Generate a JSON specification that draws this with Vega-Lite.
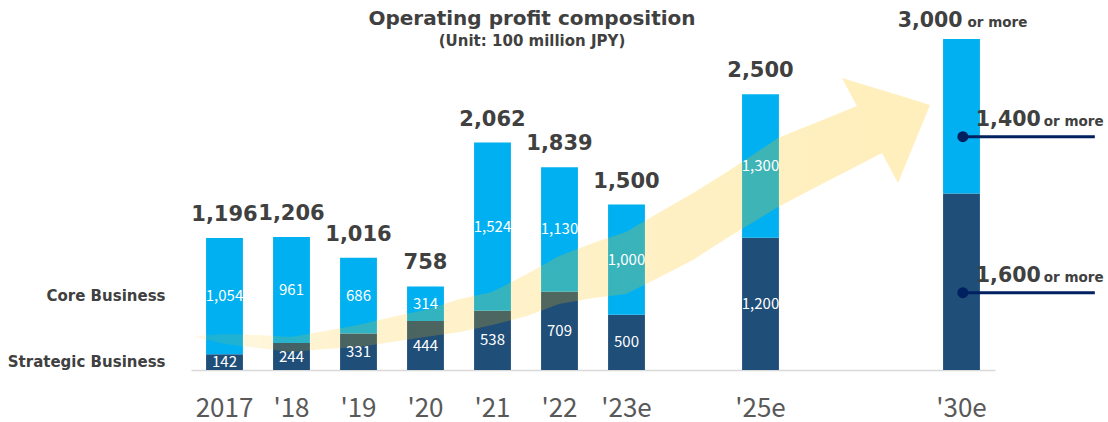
{
  "$schema": "https://vega.github.io/schema/vega-lite/v6.json",
  "width": 804,
  "height": 353,
  "autosize": {"type": "none"},
  "padding": {"left": 191, "top": 17, "right": 113, "bottom": 52},
  "background": "white",
  "config": {"view": {"stroke": null}},
  "title": {
    "text": "Operating profit composition",
    "subtitle": "(Unit: 100 million JPY)",
    "anchor": "middle",
    "dx": -61,
    "offset": -38,
    "font": "DejaVu Sans",
    "fontSize": 20,
    "fontWeight": "bold",
    "color": "#404040",
    "subtitleFont": "DejaVu Sans",
    "subtitleFontSize": 15,
    "subtitleFontWeight": "bold",
    "subtitleColor": "#404040",
    "subtitlePadding": 5
  },
  "datasets": {
    "bars": [
      {"year": "2017", "segment": "Strategic Business", "value": 142},
      {"year": "2017", "segment": "Core Business", "value": 1054},
      {"year": "'18", "segment": "Strategic Business", "value": 244},
      {"year": "'18", "segment": "Core Business", "value": 961},
      {"year": "'19", "segment": "Strategic Business", "value": 331},
      {"year": "'19", "segment": "Core Business", "value": 686},
      {"year": "'20", "segment": "Strategic Business", "value": 444},
      {"year": "'20", "segment": "Core Business", "value": 314},
      {"year": "'21", "segment": "Strategic Business", "value": 538},
      {"year": "'21", "segment": "Core Business", "value": 1524},
      {"year": "'22", "segment": "Strategic Business", "value": 709},
      {"year": "'22", "segment": "Core Business", "value": 1130},
      {"year": "'23e", "segment": "Strategic Business", "value": 500},
      {"year": "'23e", "segment": "Core Business", "value": 1000},
      {"year": "'25e", "segment": "Strategic Business", "value": 1200},
      {"year": "'25e", "segment": "Core Business", "value": 1300},
      {"year": "'30e", "segment": "Strategic Business", "value": 1600},
      {"year": "'30e", "segment": "Core Business", "value": 1400}
    ],
    "totals": [
      {"year": "2017", "total": 1196, "note": ""},
      {"year": "'18", "total": 1206, "note": ""},
      {"year": "'19", "total": 1016, "note": ""},
      {"year": "'20", "total": 758, "note": ""},
      {"year": "'21", "total": 2062, "note": ""},
      {"year": "'22", "total": 1839, "note": ""},
      {"year": "'23e", "total": 1500, "note": ""},
      {"year": "'25e", "total": 2500, "note": ""},
      {"year": "'30e", "total": 3000, "note": "or more"}
    ],
    "arrowBody": [
      {"u": -0.44, "top": 308, "bottom": 299},
      {"u": 0.007, "top": 326, "bottom": 236},
      {"u": 0.5, "top": 317, "bottom": 199},
      {"u": 0.993, "top": 299, "bottom": 163},
      {"u": 1.5, "top": 353, "bottom": 190},
      {"u": 1.993, "top": 408, "bottom": 208},
      {"u": 2.5, "top": 480, "bottom": 254},
      {"u": 2.993, "top": 544, "bottom": 299},
      {"u": 3.515, "top": 644, "bottom": 344},
      {"u": 3.993, "top": 707, "bottom": 408},
      {"u": 4.515, "top": 870, "bottom": 489},
      {"u": 4.993, "top": 1033, "bottom": 598},
      {"u": 5.5, "top": 1151, "bottom": 653},
      {"u": 5.993, "top": 1251, "bottom": 689},
      {"u": 6.5, "top": 1432, "bottom": 843},
      {"u": 6.993, "top": 1604, "bottom": 997},
      {"u": 7.5, "top": 1795, "bottom": 1197},
      {"u": 7.993, "top": 1994, "bottom": 1378},
      {"u": 8.261, "top": 2103, "bottom": 1478},
      {"u": 8.888, "top": 2257, "bottom": 1677},
      {"u": 9.44, "top": 2393, "bottom": 1849},
      {"u": 9.813, "top": 1967, "bottom": 1967}
    ],
    "arrowHead": [
      {"u": 9.216, "top": 2647, "bottom": 2647},
      {"u": 10.052, "top": 2493, "bottom": 1695},
      {"u": 10.53, "top": 2402, "bottom": 2402}
    ],
    "markers": [
      {"u": 11.02, "uEnd": 12.99, "v": 2115, "label": "1,400", "note": "or more"},
      {"u": 11.02, "uEnd": 12.99, "v": 701, "label": "1,600", "note": "or more"}
    ]
  },
  "layer": [
    {
      "data": {"name": "bars"},
      "mark": {"type": "bar"},
      "encoding": {
        "x": {
          "field": "year", "type": "nominal",
          "scale": {"domain": ["2017", "'18", "'19", "'20", "'21", "'22", "'23e", "gap1", "'25e", "gap2", "gap3", "'30e"], "paddingInner": 0.45, "paddingOuter": 0.225},
          "axis": {
            "title": null,
            "labelExpr": "indexof(datum.label, 'gap') === 0 ? '' : datum.label",
            "labelAngle": 0,
            "labelFont": "Noto Sans CJK JP",
            "labelFontSize": 26,
            "labelColor": "#595959",
            "labelBaseline": "alphabetic",
            "labelPadding": 46,
            "ticks": false,
            "tickSize": 0,
            "grid": false,
            "domainColor": "#D9D9D9",
            "domainWidth": 1.5
          }
        },
        "y": {"field": "value", "type": "quantitative", "stack": "zero", "scale": {"domain": [0, 3200], "nice": false}, "axis": null},
        "color": {"field": "segment", "type": "nominal", "scale": {"domain": ["Strategic Business", "Core Business"], "range": ["#1F4E79", "#00B0F0"]}, "legend": null},
        "order": {"field": "segment", "sort": "descending"}
      }
    },
    {
      "layer": [
        {
          "data": {"name": "arrowBody"},
          "mark": {
            "type": "area",
            "interpolate": "linear",
            "fill": {
              "gradient": "linear", "x1": 0, "y1": 0, "x2": 1, "y2": 0,
              "stops": [
                {"offset": 0, "color": "rgba(255,192,0,0.10)"},
                {"offset": 0.2, "color": "rgba(255,192,0,0.19)"},
                {"offset": 1, "color": "rgba(255,192,0,0.26)"}
              ]
            }
          },
          "encoding": {
            "x": {"field": "u", "type": "quantitative", "scale": {"domain": [-0.5, 11.5], "nice": false, "zero": false}, "axis": null},
            "y": {"field": "top", "type": "quantitative", "stack": null, "scale": {"domain": [0, 3200], "nice": false}, "axis": null},
            "y2": {"field": "bottom"}
          }
        },
        {
          "data": {"name": "arrowHead"},
          "mark": {"type": "area", "interpolate": "linear", "fill": "#FFC000", "fillOpacity": 0.26},
          "encoding": {
            "x": {"field": "u", "type": "quantitative", "scale": {"domain": [-0.5, 11.5], "nice": false, "zero": false}, "axis": null},
            "y": {"field": "top", "type": "quantitative", "stack": null, "scale": {"domain": [0, 3200], "nice": false}, "axis": null},
            "y2": {"field": "bottom"}
          }
        }
      ]
    },
    {
      "layer": [
        {
          "data": {"name": "bars"},
          "transform": [{"filter": {"not": {"field": "year", "equal": "'30e"}}}],
          "mark": {"type": "text", "font": "Noto Sans CJK JP", "fontSize": 15, "color": "white", "baseline": "middle"},
          "encoding": {
            "x": {"field": "year", "type": "nominal", "scale": {"domain": ["2017", "'18", "'19", "'20", "'21", "'22", "'23e", "gap1", "'25e", "gap2", "gap3", "'30e"], "paddingInner": 0.45, "paddingOuter": 0.225}, "axis": null},
            "y": {"field": "value", "type": "quantitative", "stack": "zero", "bandPosition": 0.5, "scale": {"domain": [0, 3200], "nice": false}, "axis": null},
            "detail": {"field": "segment"},
            "order": {"field": "segment", "sort": "descending"},
            "text": {"field": "value", "type": "quantitative", "format": ","}
          }
        },
        {
          "data": {"name": "bars"},
          "transform": [{"filter": {"field": "year", "equal": "2017"}}],
          "mark": {"type": "text", "font": "DejaVu Sans", "fontSize": 15, "fontWeight": "bold", "color": "#404040", "align": "right", "baseline": "middle", "dx": -59},
          "encoding": {
            "x": {"field": "year", "type": "nominal", "scale": {"domain": ["2017", "'18", "'19", "'20", "'21", "'22", "'23e", "gap1", "'25e", "gap2", "gap3", "'30e"], "paddingInner": 0.45, "paddingOuter": 0.225}, "axis": null},
            "y": {"field": "value", "type": "quantitative", "stack": "zero", "bandPosition": 0.5, "scale": {"domain": [0, 3200], "nice": false}, "axis": null},
            "detail": {"field": "segment"},
            "order": {"field": "segment", "sort": "descending"},
            "text": {"field": "segment"}
          }
        },
        {
          "data": {"name": "totals"},
          "transform": [{"filter": {"not": {"field": "year", "equal": "'30e"}}}],
          "mark": {"type": "text", "font": "DejaVu Sans", "fontSize": 21, "fontWeight": "bold", "color": "#404040", "baseline": "alphabetic", "dy": -17},
          "encoding": {
            "x": {"field": "year", "type": "nominal", "scale": {"domain": ["2017", "'18", "'19", "'20", "'21", "'22", "'23e", "gap1", "'25e", "gap2", "gap3", "'30e"], "paddingInner": 0.45, "paddingOuter": 0.225}, "axis": null},
            "y": {"field": "total", "type": "quantitative", "stack": null, "scale": {"domain": [0, 3200], "nice": false}, "axis": null},
            "text": {"field": "total", "type": "quantitative", "format": ","}
          }
        },
        {
          "data": {"name": "totals"},
          "transform": [{"filter": {"field": "year", "equal": "'30e"}}],
          "mark": {"type": "text", "font": "DejaVu Sans", "fontSize": 20.5, "fontWeight": "bold", "color": "#404040", "baseline": "alphabetic", "align": "right", "dx": 1, "dy": -12},
          "encoding": {
            "x": {"field": "year", "type": "nominal", "scale": {"domain": ["2017", "'18", "'19", "'20", "'21", "'22", "'23e", "gap1", "'25e", "gap2", "gap3", "'30e"], "paddingInner": 0.45, "paddingOuter": 0.225}, "axis": null},
            "y": {"field": "total", "type": "quantitative", "stack": null, "scale": {"domain": [0, 3200], "nice": false}, "axis": null},
            "text": {"field": "total", "type": "quantitative", "format": ","}
          }
        },
        {
          "data": {"name": "totals"},
          "transform": [{"filter": {"field": "year", "equal": "'30e"}}],
          "mark": {"type": "text", "font": "DejaVu Sans", "fontSize": 13.5, "fontWeight": "bold", "color": "#404040", "baseline": "alphabetic", "align": "left", "dx": 6, "dy": -12},
          "encoding": {
            "x": {"field": "year", "type": "nominal", "scale": {"domain": ["2017", "'18", "'19", "'20", "'21", "'22", "'23e", "gap1", "'25e", "gap2", "gap3", "'30e"], "paddingInner": 0.45, "paddingOuter": 0.225}, "axis": null},
            "y": {"field": "total", "type": "quantitative", "stack": null, "scale": {"domain": [0, 3200], "nice": false}, "axis": null},
            "text": {"field": "note"}
          }
        }
      ]
    },
    {
      "layer": [
        {
          "data": {"name": "markers"},
          "mark": {"type": "rule", "color": "#002060", "strokeWidth": 3},
          "encoding": {
            "x": {"field": "u", "type": "quantitative", "scale": {"domain": [-0.5, 11.5], "nice": false, "zero": false}, "axis": null},
            "x2": {"field": "uEnd"},
            "y": {"field": "v", "type": "quantitative", "scale": {"domain": [0, 3200], "nice": false}, "axis": null}
          }
        },
        {
          "data": {"name": "markers"},
          "mark": {"type": "point", "shape": "circle", "filled": true, "size": 120, "color": "#002060", "opacity": 1},
          "encoding": {
            "x": {"field": "u", "type": "quantitative", "scale": {"domain": [-0.5, 11.5], "nice": false, "zero": false}, "axis": null},
            "y": {"field": "v", "type": "quantitative", "scale": {"domain": [0, 3200], "nice": false}, "axis": null}
          }
        },
        {
          "data": {"name": "markers"},
          "mark": {"type": "text", "font": "DejaVu Sans", "fontSize": 20.5, "fontWeight": "bold", "color": "#404040", "baseline": "alphabetic", "align": "left", "dx": 13, "dy": -11},
          "encoding": {
            "x": {"field": "u", "type": "quantitative", "scale": {"domain": [-0.5, 11.5], "nice": false, "zero": false}, "axis": null},
            "y": {"field": "v", "type": "quantitative", "scale": {"domain": [0, 3200], "nice": false}, "axis": null},
            "text": {"field": "label"}
          }
        },
        {
          "data": {"name": "markers"},
          "mark": {"type": "text", "font": "DejaVu Sans", "fontSize": 13.5, "fontWeight": "bold", "color": "#404040", "baseline": "alphabetic", "align": "left", "dx": 81, "dy": -11},
          "encoding": {
            "x": {"field": "u", "type": "quantitative", "scale": {"domain": [-0.5, 11.5], "nice": false, "zero": false}, "axis": null},
            "y": {"field": "v", "type": "quantitative", "scale": {"domain": [0, 3200], "nice": false}, "axis": null},
            "text": {"field": "note"}
          }
        }
      ]
    }
  ],
  "resolve": {"scale": {"x": "independent"}}
}
